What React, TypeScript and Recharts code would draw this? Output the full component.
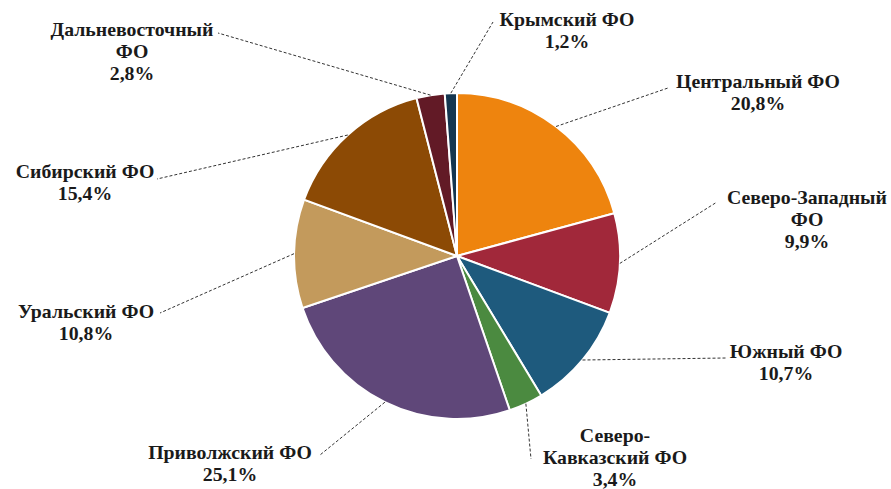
import { Cell, Pie, PieChart } from 'recharts'

const regions = [
  'Центральный ФО',
  'Северо-Западный\nФО',
  'Южный ФО',
  'Северо-\nКавказский ФО',
  'Приволжский ФО',
  'Уральский ФО',
  'Сибирский ФО',
  'Дальневосточный\nФО',
  'Крымский ФО',
]

const shares = [20.8, 9.9, 10.7, 3.4, 25.1, 10.8, 15.4, 2.8, 1.2]

const colors = [
  '#EE840E',
  '#A1283A',
  '#1E5A7D',
  '#4B8A40',
  '#5F4779',
  '#C39A5C',
  '#8C4A05',
  '#621A26',
  '#14364F',
]

// where each label sits: text centre / first baseline, and the end of the leader
const labelSpots = [
  { tx: 758, ty: 88, lx: 668, ly: 88 },
  { tx: 807, ty: 204, lx: 717, ly: 202 },
  { tx: 786, ty: 358, lx: 726, ly: 358 },
  { tx: 615, ty: 442, lx: 531, ly: 459 },
  { tx: 230, ty: 459, lx: 320, ly: 455 },
  { tx: 86, ty: 318, lx: 160, ly: 313 },
  { tx: 85, ty: 178, lx: 157, ly: 179 },
  { tx: 132, ty: 36, lx: 218, ly: 33 },
  { tx: 567, ty: 26, lx: 493, ly: 22 },
]

const data = regions.map((name, i) => ({ name, value: shares[i], color: colors[i] }))

const RAD = Math.PI / 180

function renderLabel(props: any) {
  const { cx, cy, midAngle, outerRadius, index, value } = props
  const spot = labelSpots[index]
  const sx = cx + outerRadius * Math.cos(-midAngle * RAD)
  const sy = cy + outerRadius * Math.sin(-midAngle * RAD)
  const lines = [...data[index].name.split('\n'), value.toFixed(1).replace('.', ',') + '%']
  return (
    <g key={'lbl' + index} className='fo-label'>
      <line x1={sx} y1={sy} x2={spot.lx} y2={spot.ly} stroke='#333' strokeWidth={1} strokeDasharray='3 2' />
      {lines.map((t, j) => (
        <text
          key={j}
          x={0}
          y={0}
          transform={`translate(${spot.tx},${spot.ty + j * 22}) scale(1.1,1)`}
          textAnchor='middle'
          fill='#1a1a1a'
          style={{ fontFamily: 'Liberation Serif', fontWeight: 700, fontSize: 18 }}
        >
          {t}
        </text>
      ))}
    </g>
  )
}

export default function App() {
  return (
    <div style={{ position: 'fixed', top: 0, left: 0, background: '#fff' }}>
      <style>{`.recharts-wrapper text, .fo-label text { font-family: 'Liberation Serif' !important; font-weight: 700 !important; }`}</style>
      <PieChart width={891} height={489} margin={{ top: 0, right: 0, bottom: 0, left: 0 }}>
        <Pie
          data={data}
          dataKey='value'
          cx={457}
          cy={256}
          outerRadius={163}
          startAngle={90}
          endAngle={-270}
          stroke='#fff'
          strokeWidth={2}
          label={renderLabel}
          labelLine={false}
          isAnimationActive={false}
        >
          {data.map((item) => (
            <Cell key={item.name} fill={item.color} />
          ))}
        </Pie>
      </PieChart>
    </div>
  )
}
